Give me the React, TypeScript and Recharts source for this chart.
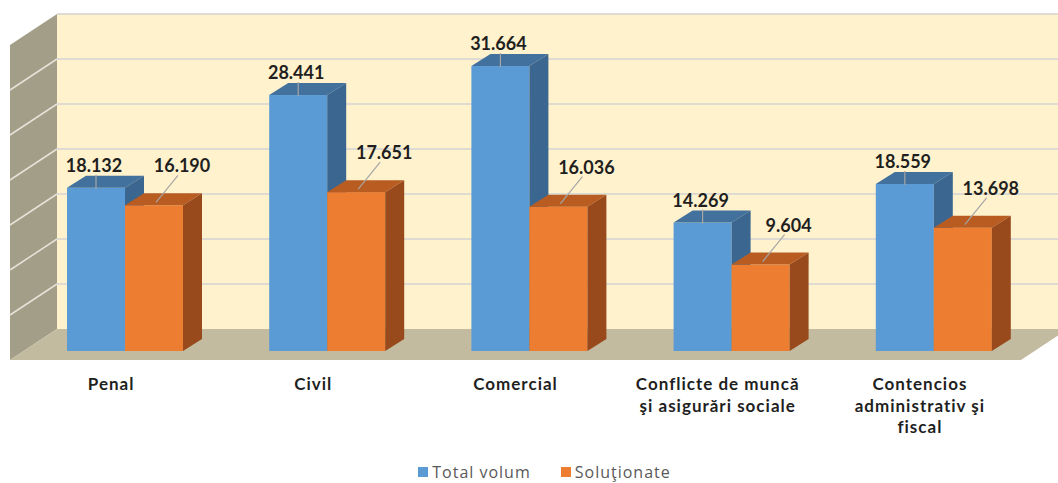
import React from 'react';
import { BarChart, Bar, XAxis, YAxis, ReferenceArea, LabelList, Legend } from 'recharts';

const CATEGORIES = [
  'Penal',
  'Civil',
  'Comercial',
  'Conflicte de muncă\nşi asigurări sociale',
  'Contencios\nadministrativ şi\nfiscal',
];
const TOTAL_VOLUM = [18132, 28441, 31664, 14269, 18559];
const SOLUTIONATE = [16190, 17651, 16036, 9604, 13698];
const Y_TICKS = [0, 5000, 10000, 15000, 20000, 25000, 30000, 35000];

const SERIES = [
  { key: 'total', name: 'Total volum', front: '#5B9BD5', top: '#41719C', side: '#3A6690' },
  { key: 'solved', name: 'Soluţionate', front: '#ED7D31', top: '#B85C21', side: '#984A1C' },
];

const data = CATEGORIES.map((name, i) => ({ name, total: TOTAL_VOLUM[i], solved: SOLUTIONATE[i] }));

// 3D offsets (px): bar depth, back wall, front edge of the floor
const DX = 19, DY = -12;
const BACK_X = 33, BACK_Y = -22;
const FRONT_X = -14, FRONT_Y = 9;

const fmt = (v: number) => String(v).replace(/\B(?=(\d{3})+(?!\d))/g, '.');

// walls, floor and gridlines, drawn from the plot rectangle of the value axis
const Room = (props: any) => {
  const { x, y, width, height } = props;
  const bottom = y + height;
  const yMax = Y_TICKS[Y_TICKS.length - 1];
  const yOf = (t: number) => bottom - (t / yMax) * height;
  const bx = x + BACK_X;
  const fx = x + FRONT_X;
  return (
    <g>
      <rect x={bx} y={y + BACK_Y} width={width + 40} height={height} fill="#FFF2CC" />
      {Y_TICKS.slice(1).map((t) => (
        <line key={t} x1={bx} x2={bx + width + 40} y1={yOf(t) + BACK_Y} y2={yOf(t) + BACK_Y} stroke="#DEDCD2" strokeWidth={2} />
      ))}
      <polygon
        points={`${bx},${y + BACK_Y} ${bx},${bottom + BACK_Y} ${fx},${bottom + FRONT_Y} ${fx},${y + FRONT_Y}`}
        fill="#A39E87"
      />
      {Y_TICKS.slice(1, -1).map((t) => (
        <line key={t} x1={bx} x2={fx} y1={yOf(t) + BACK_Y} y2={yOf(t) + FRONT_Y} stroke="#E4E2DA" strokeWidth={1.5} />
      ))}
      <polygon
        points={`${bx},${bottom + BACK_Y} ${bx + width},${bottom + BACK_Y} ${fx + width},${bottom + FRONT_Y} ${fx},${bottom + FRONT_Y}`}
        fill="#C3BB9F"
      />
    </g>
  );
};

const makeBar3D = (front: string, top: string, side: string) => (p: any) => {
  const { x, y, width: w, height: h } = p;
  if (!h || h <= 0) return <g />;
  return (
    <g>
      <rect x={x} y={y} width={w} height={h} fill={front} />
      <polygon points={`${x},${y} ${x + DX},${y + DY} ${x + w + DX},${y + DY} ${x + w},${y}`} fill={top} />
      <polygon points={`${x + w},${y} ${x + w + DX},${y + DY} ${x + w + DX},${y + h + DY} ${x + w},${y + h}`} fill={side} />
    </g>
  );
};

const makeLabel = (tx: number, ty: number) => (p: any) => {
  const { x, y, width, value } = p;
  const cx = Number(x) + Number(width) / 2;
  const top = Number(y);
  const lx = cx + tx;
  const ly = top + ty;
  const diagonal = tx > 10;
  return (
    <g>
      <line
        x1={diagonal ? lx - 4 : cx}
        y1={ly + 10}
        x2={diagonal ? cx + 2 : cx}
        y2={diagonal ? top - 3 : top + 1}
        stroke="#A6A6A6"
        strokeWidth={1.2}
      />
      <text x={lx} y={ly} textAnchor="middle" dominantBaseline="central" fontFamily="Lato" fontWeight={700} fontSize={18} fill="#1F1F1F">
        {fmt(value)}
      </text>
    </g>
  );
};

const CategoryTick = (props: any) => {
  const { x, y, payload } = props;
  const lines = String(payload.value).split('\n');
  const tx = x + FRONT_X;
  return (
    <text x={tx} y={y + 31} textAnchor="middle" fontFamily="Lato" fontWeight={700} fontSize={17} letterSpacing={1} fill="#1F1F1F">
      {lines.map((l, i) => (
        <tspan key={i} x={tx} dy={i === 0 ? 0 : 21.5}>{l}</tspan>
      ))}
    </text>
  );
};

const LegendContent = () => (
  <div style={{ display: 'flex', justifyContent: 'center', paddingLeft: 30, paddingTop: 8, gap: 30, fontFamily: 'Open Sans', fontSize: 16, color: '#595959' }}>
    {SERIES.map((s) => (
      <div key={s.key} style={{ display: 'flex', alignItems: 'center', gap: 4 }}>
        <span style={{ width: 10, height: 10, background: s.front, display: 'inline-block' }} />
        <span style={{ letterSpacing: 1 }}>{s.name}</span>
      </div>
    ))}
  </div>
);

export default function App() {
  return (
    <div style={{ position: 'absolute', left: 0, top: 0, width: 1058, height: 483, background: '#fff' }}>
      <BarChart width={1058} height={483} data={data} margin={{ top: 36, right: 23, bottom: 22, left: 24 }} barGap={0} barSize={58}>
        <XAxis dataKey="name" axisLine={false} tickLine={false} height={80} tick={<CategoryTick />} interval={0} />
        <YAxis hide domain={[0, 35000]} ticks={Y_TICKS} />
        <ReferenceArea y1={0} y2={35000} shape={<Room />} ifOverflow="visible" />
        <Legend verticalAlign="bottom" height={30} wrapperStyle={{ bottom: 0 }} content={<LegendContent />} />
        {SERIES.map((s) => (
          <Bar key={s.key} dataKey={s.key} name={s.name} fill={s.front} shape={makeBar3D(s.front, s.top, s.side)} isAnimationActive={false}>
            <LabelList dataKey={s.key} content={s.key === 'total' ? makeLabel(-2, -23) : makeLabel(28, -40)} />
          </Bar>
        ))}
      </BarChart>
    </div>
  );
}
